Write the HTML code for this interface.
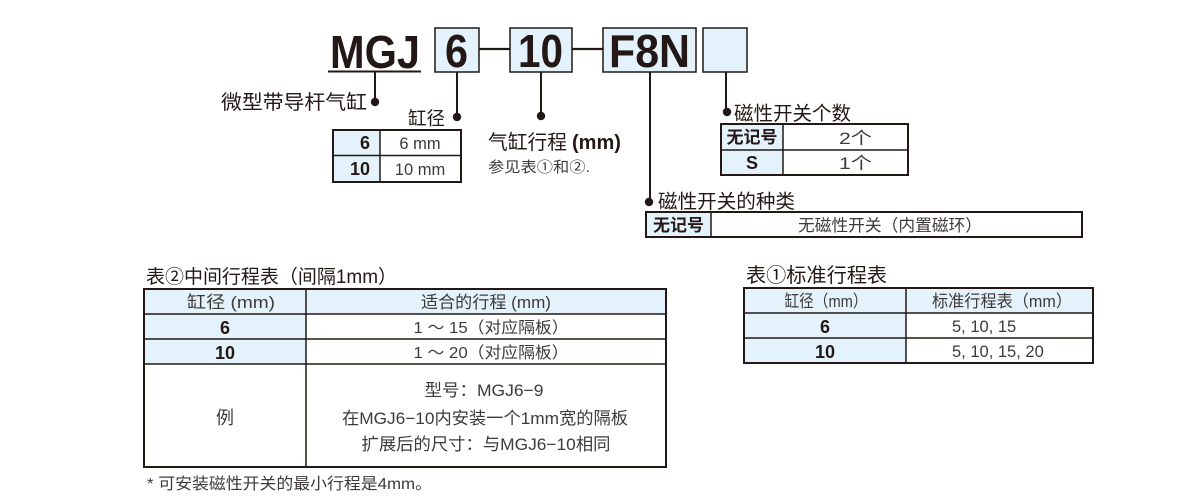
<!DOCTYPE html>
<html><head><meta charset="utf-8">
<style>
html,body{margin:0;padding:0;background:#fff;}
svg{display:block;}
text{font-family:"Liberation Sans","Noto Sans CJK SC",sans-serif;fill:#231815;}
.g{fill:#3e3a39;}
.b{font-weight:bold;}
</style></head>
<body>
<svg width="1200" height="500" viewBox="0 0 1200 500" xmlns="http://www.w3.org/2000/svg">
<!-- Model code -->
<text x="330" y="68" font-size="46" class="b" textLength="90" lengthAdjust="spacingAndGlyphs">MGJ</text>
<line x1="328" y1="71.5" x2="421" y2="71.5" stroke="#231815" stroke-width="2"/>

<g fill="#e3f2fb" stroke="#231815" stroke-width="1.5">
<rect x="435" y="28" width="44" height="44"/>
<rect x="510" y="28" width="62" height="44"/>
<rect x="603" y="28" width="93" height="44"/>
<rect x="703" y="28" width="44" height="44"/>
</g>
<line x1="479" y1="49" x2="510" y2="49" stroke="#231815" stroke-width="2.2"/>
<line x1="572" y1="49" x2="603" y2="49" stroke="#231815" stroke-width="2.2"/>
<text x="445" y="67" font-size="46" class="b" textLength="23" lengthAdjust="spacingAndGlyphs">6</text>
<text x="518" y="67" font-size="46" class="b" textLength="45" lengthAdjust="spacingAndGlyphs">10</text>
<text x="609" y="67" font-size="46" class="b" textLength="81" lengthAdjust="spacingAndGlyphs">F8N</text>

<!-- connectors -->
<g stroke="#231815" stroke-width="2">
<line x1="375" y1="72" x2="375" y2="101"/>
<line x1="457" y1="72" x2="457" y2="117"/>
<line x1="541" y1="72" x2="541" y2="116"/>
<line x1="650" y1="72" x2="650" y2="201"/>
<line x1="726" y1="72" x2="726" y2="112"/>
</g>
<g fill="#231815">
<circle cx="375" cy="102" r="4.2"/>
<circle cx="457" cy="117" r="4.2"/>
<circle cx="541" cy="116" r="4.2"/>
<circle cx="649" cy="202" r="4.2"/>
<circle cx="727" cy="112" r="4.2"/>
</g>

<!-- labels -->
<text x="221" y="109" font-size="20" textLength="146" lengthAdjust="spacingAndGlyphs">微型带导杆气缸</text>
<text x="408" y="125" font-size="18.5" textLength="37" lengthAdjust="spacingAndGlyphs">缸径</text>

<!-- bore table -->
<rect x="333" y="130" width="47" height="52" fill="#e3f2fb"/>
<g stroke="#231815" fill="none">
<rect x="333" y="130" width="128" height="52" stroke-width="2"/>
<line x1="380" y1="130" x2="380" y2="182" stroke-width="1.5"/>
<line x1="333" y1="155.5" x2="461" y2="155.5" stroke-width="1.5"/>
</g>
<text x="370" y="149" font-size="18" class="b" text-anchor="end">6</text>
<text x="370" y="175" font-size="18" class="b" text-anchor="end">10</text>
<text x="420" y="149" font-size="16.5" class="g" text-anchor="middle">6 mm</text>
<text x="420" y="175" font-size="16.5" class="g" text-anchor="middle">10 mm</text>

<text x="488" y="149" font-size="20"><tspan textLength="79" lengthAdjust="spacingAndGlyphs">气缸行程</tspan><tspan class="b" dx="5">(mm)</tspan></text>
<text x="488" y="172" font-size="15" class="g" textLength="102" lengthAdjust="spacingAndGlyphs">参见表①和②.</text>

<!-- switch count -->
<text x="734" y="120" font-size="19.5" textLength="117" lengthAdjust="spacingAndGlyphs">磁性开关个数</text>
<rect x="721" y="124" width="62" height="51" fill="#e3f2fb"/>
<g stroke="#231815" fill="none">
<rect x="721" y="124" width="187" height="51" stroke-width="2"/>
<line x1="783" y1="124" x2="783" y2="175" stroke-width="1.5"/>
<line x1="721" y1="150" x2="908" y2="150" stroke-width="1.5"/>
</g>
<text x="752" y="143" font-size="17" class="b" text-anchor="middle">无记号</text>
<text x="752" y="169" font-size="18" class="b" text-anchor="middle">S</text>
<text x="839" y="144" font-size="17" class="g" textLength="33" lengthAdjust="spacingAndGlyphs">2个</text>
<text x="839" y="169" font-size="17" class="g" textLength="33" lengthAdjust="spacingAndGlyphs">1个</text>

<!-- switch type -->
<text x="658" y="208" font-size="19.5" textLength="137" lengthAdjust="spacingAndGlyphs">磁性开关的种类</text>
<rect x="646" y="212" width="65" height="25" fill="#e3f2fb"/>
<g stroke="#231815" fill="none">
<rect x="646" y="212" width="436" height="25" stroke-width="2"/>
<line x1="711" y1="212" x2="711" y2="237" stroke-width="1.5"/>
</g>
<text x="678.5" y="231" font-size="17" class="b" text-anchor="middle">无记号</text>
<text x="890" y="231" font-size="16.5" class="g" text-anchor="middle" textLength="184" lengthAdjust="spacingAndGlyphs">无磁性开关（内置磁环）</text>

<!-- Table 2 -->
<text x="146" y="283" font-size="19" textLength="251" lengthAdjust="spacingAndGlyphs">表②中间行程表（间隔1mm）</text>
<rect x="144" y="289" width="522" height="25" fill="#e3f2fb"/>
<rect x="144" y="314" width="162" height="50" fill="#e3f2fb"/>
<g stroke="#231815" fill="none">
<rect x="144" y="289" width="522" height="178" stroke-width="2"/>
<line x1="306" y1="289" x2="306" y2="467" stroke-width="1.5"/>
<line x1="144" y1="314" x2="666" y2="314" stroke-width="1.5"/>
<line x1="144" y1="339" x2="666" y2="339" stroke-width="1.5"/>
<line x1="144" y1="364" x2="666" y2="364" stroke-width="1.5"/>
</g>
<text x="231" y="308" font-size="17" class="g" text-anchor="middle" textLength="88" lengthAdjust="spacingAndGlyphs">缸径 (mm)</text>
<text x="486" y="308" font-size="17" class="g" text-anchor="middle" textLength="130" lengthAdjust="spacingAndGlyphs">适合的行程 (mm)</text>
<text x="225" y="334" font-size="18" class="b" text-anchor="middle">6</text>
<text x="225" y="359" font-size="18" class="b" text-anchor="middle">10</text>
<text x="491" y="333" font-size="16" class="g" text-anchor="middle" textLength="155" lengthAdjust="spacingAndGlyphs">1 ～ 15（对应隔板）</text>
<text x="491" y="358" font-size="16" class="g" text-anchor="middle" textLength="155" lengthAdjust="spacingAndGlyphs">1 ～ 20（对应隔板）</text>
<text x="225" y="424" font-size="18" class="g" text-anchor="middle">例</text>
<text x="484" y="396" font-size="17" class="g" text-anchor="middle" textLength="119" lengthAdjust="spacingAndGlyphs">型号：MGJ6−9</text>
<text x="485" y="424" font-size="17" class="g" text-anchor="middle" textLength="286" lengthAdjust="spacingAndGlyphs">在MGJ6−10内安装一个1mm宽的隔板</text>
<text x="486" y="450" font-size="17" class="g" text-anchor="middle" textLength="249" lengthAdjust="spacingAndGlyphs">扩展后的尺寸：与MGJ6−10相同</text>
<text x="147" y="489" font-size="16" class="g" textLength="285" lengthAdjust="spacingAndGlyphs">* 可安装磁性开关的最小行程是4mm。</text>

<!-- Table 1 -->
<text x="746" y="282" font-size="20" textLength="141" lengthAdjust="spacingAndGlyphs">表①标准行程表</text>
<rect x="744" y="288" width="349" height="25" fill="#e3f2fb"/>
<rect x="744" y="313" width="162" height="50" fill="#e3f2fb"/>
<g stroke="#231815" fill="none">
<rect x="744" y="288" width="349" height="75" stroke-width="2"/>
<line x1="906" y1="288" x2="906" y2="363" stroke-width="1.5"/>
<line x1="744" y1="313" x2="1093" y2="313" stroke-width="1.5"/>
<line x1="744" y1="338" x2="1093" y2="338" stroke-width="1.5"/>
</g>
<text x="826" y="307" font-size="17" class="g" text-anchor="middle" textLength="83" lengthAdjust="spacingAndGlyphs">缸径（mm）</text>
<text x="1002" y="307" font-size="17" class="g" text-anchor="middle" textLength="140" lengthAdjust="spacingAndGlyphs">标准行程表（mm）</text>
<text x="825" y="333" font-size="18" class="b" text-anchor="middle">6</text>
<text x="825" y="358" font-size="18" class="b" text-anchor="middle">10</text>
<text x="952" y="332" font-size="16.5" class="g">5, 10, 15</text>
<text x="952" y="357" font-size="16.5" class="g">5, 10, 15, 20</text>
</svg>
</body></html>
